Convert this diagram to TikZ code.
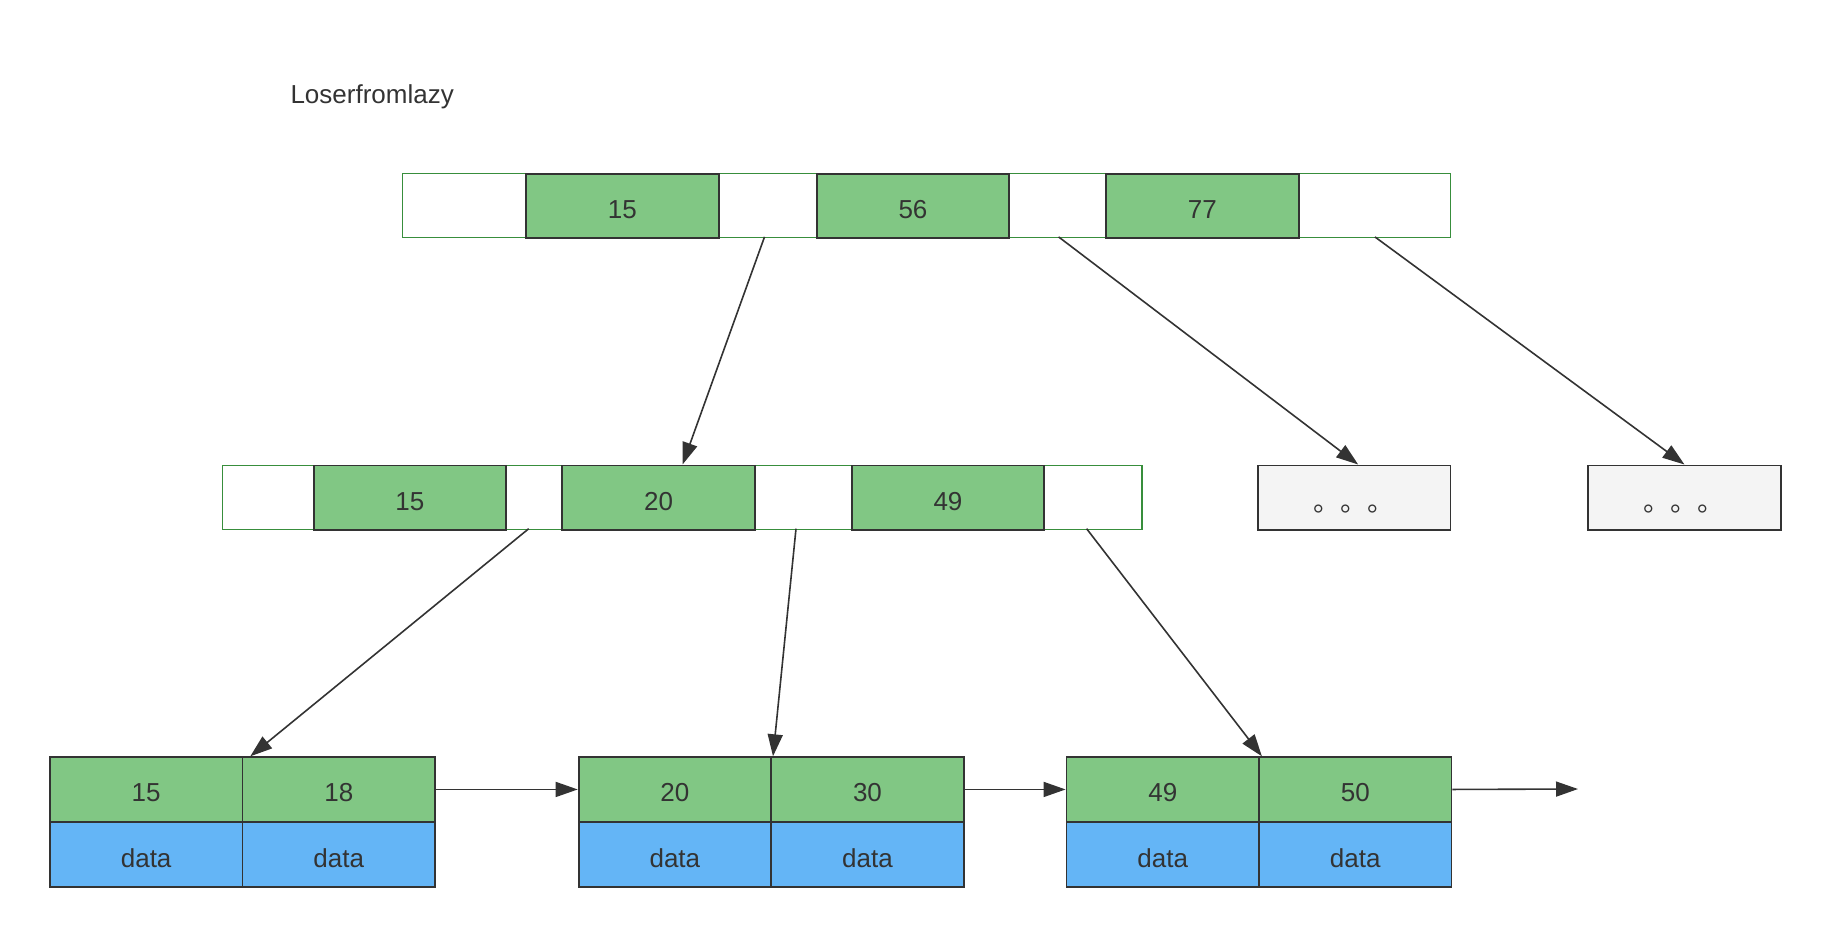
\documentclass[tikz,border=0pt]{standalone}
\usepackage{fontspec}
\setmainfont{Liberation Sans}
\newfontfamily\cjk{Noto Sans CJK SC}
\usepackage{xcolor}
\usetikzlibrary{arrows.meta,positioning}
\definecolor{keygreen}{RGB}{129,199,132}
\definecolor{datablue}{RGB}{100,181,246}
\definecolor{pagegreen}{RGB}{56,142,60}
\definecolor{ink}{RGB}{51,51,51}
\definecolor{restgray}{RGB}{244,244,244}
\tikzset{
  page box/.style={draw=pagegreen,line width=1.5pt,fill=white,minimum width=#1,minimum height=64pt,inner sep=0pt,anchor=north west},
  key cell/.style={draw=ink,line width=1.8pt,fill=keygreen,minimum width=192.5pt,minimum height=64.5pt,inner sep=0pt,anchor=north west,text=ink,text height=25pt,text depth=0pt},
  data cell/.style={key cell,fill=datablue},
  rest box/.style={key cell,fill=restgray,font=\fontsize{27}{30}\cjk,text height=27pt},
  pointer/.style={draw=ink,line width=1.6pt,-{Triangle[length=22pt,width=15pt]}}
}

\begin{document}
\begin{tikzpicture}[x=1pt,y=-1pt,font=\fontsize{26}{31}\selectfont]
  \useasboundingbox (0,0) rectangle (1830,937);
  \node[anchor=west,text=ink] (title) at (287,96.5) {Loserfromlazy};
  % root
  \node[page box=1048pt] (root) at (401.5,172.7) {};
  \node[key cell] (r15) at (525.2,172.7) {15};
  \node[key cell] (r56) at (815.8,172.7) {56};
  \node[key cell] (r77) at (1105.2,172.7) {77};
  % middle level
  \node[page box=919.7pt] (mid) at (221.7,464.5) {};
  \node[key cell] (m15) at (312.8,464.5) {15};
  \node[key cell] (m20) at (561.4,464.5) {20};
  \node[key cell] (m49) at (850.8,464.5) {49};
  \node[rest box] (g1) at (1257,464.5) {。。。};
  \node[rest box] (g2) at (1587.3,464.5) {。。。};
  % leaves
  \node[key cell] (l1a) at (49,756.3) {15};
  \node[key cell] (l1b) at (241.6,756.3) {18};
  \node[data cell] (d1a) at (49,821.6) {data};
  \node[data cell] (d1b) at (241.6,821.6) {data};
  \node[key cell] (l2a) at (577.7,756.3) {20};
  \node[key cell] (l2b) at (770.3,756.3) {30};
  \node[data cell] (d2a) at (577.7,821.6) {data};
  \node[data cell] (d2b) at (770.3,821.6) {data};
  \node[key cell] (l3a) at (1065.6,756.3) {49};
  \node[key cell] (l3b) at (1258.1,756.3) {50};
  \node[data cell] (d3a) at (1065.6,821.6) {data};
  \node[data cell] (d3b) at (1258.1,821.6) {data};
  % pointers
  \coordinate (p1) at (764.5,236.9);
  \coordinate (p2) at (1058.6,236.9);
  \coordinate (p3) at (1374.9,236.9);
  \coordinate (q1) at (528.7,528.7);
  \coordinate (q2) at (796,528.7);
  \coordinate (q3) at (1086.6,528.7);
  \coordinate (tail) at (1578,789);
  \draw[pointer] (p1) -- ([xshift=24pt]m20.north);
  \draw[pointer] (p2) -- ([xshift=4pt]g1.north);
  \draw[pointer] (p3) -- (g2.north);
  \draw[pointer] (q1) -- ([xshift=7pt]l1a.north east);
  \draw[pointer] (q2) -- ([xshift=1pt]l2a.north east);
  \draw[pointer] (q3) -- ([xshift=2pt]l3a.north east);
  \draw[pointer] (l1b.east) -- (l2a.west);
  \draw[pointer] (l2b.east) -- (l3a.west);
  \draw[pointer] (l3b.east) -- (tail);
\end{tikzpicture}
\end{document}
